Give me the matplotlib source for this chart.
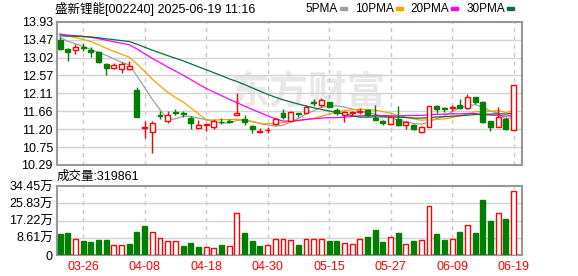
import numpy as np
import pandas as pd
import matplotlib
matplotlib.use('Agg')
import matplotlib.pyplot as plt
from matplotlib.patches import Rectangle

plt.rcParams['font.family'] = ['Liberation Sans', 'Noto Sans CJK SC']

title = '盛新锂能[002240] 2025-06-19 11:16'

dates = ['03-21', '03-24', '03-25', '03-26', '03-27', '03-28', '03-31', '04-01', '04-02', '04-03',
         '04-07', '04-08', '04-09', '04-10', '04-11', '04-14', '04-15', '04-16', '04-17', '04-18',
         '04-21', '04-22', '04-23', '04-24', '04-25', '04-28', '04-29', '04-30', '05-06', '05-07',
         '05-08', '05-09', '05-12', '05-13', '05-14', '05-15', '05-16', '05-19', '05-20', '05-21',
         '05-22', '05-23', '05-26', '05-27', '05-28', '05-29', '05-30', '06-03', '06-04', '06-05',
         '06-06', '06-09', '06-10', '06-11', '06-12', '06-13', '06-16', '06-17', '06-18', '06-19']

opens = [13.47, 13.24, 13.22, 13.29, 13.20, 13.15, 12.86, 12.76, 12.74, 12.74,
         12.20, 11.22, 11.12, 11.55, 11.42, 11.63, 11.61, 11.49, 11.24, 11.31,
         11.26, 11.39, 11.40, 11.57, 11.46, 11.28, 11.13, 11.17, 11.32, 11.60,
         11.41, 11.60, 11.62, 11.89, 11.82, 11.88, 11.69, 11.57, 11.61, 11.63,
         11.69, 11.49, 11.41, 11.33, 11.47, 11.30, 11.31, 11.14, 11.26, 11.79,
         11.73, 11.74, 11.82, 11.73, 12.01, 11.89, 11.41, 11.26, 11.46, 11.18]
highs = [13.55, 13.26, 13.36, 13.38, 13.28, 13.16, 12.89, 12.88, 12.91, 12.93,
         12.27, 11.41, 11.40, 11.66, 11.67, 11.70, 11.67, 11.54, 11.43, 11.34,
         11.45, 11.48, 11.45, 12.13, 11.56, 11.31, 11.24, 11.26, 11.48, 11.71,
         11.67, 11.62, 11.81, 11.97, 11.98, 11.90, 11.73, 11.65, 11.67, 11.75,
         11.71, 11.81, 11.44, 11.52, 11.78, 11.42, 11.32, 11.28, 11.80, 11.82,
         11.77, 11.81, 11.97, 12.09, 12.02, 11.92, 11.42, 11.77, 11.52, 12.32]
lows = [13.22, 12.94, 13.11, 13.19, 13.04, 12.88, 12.58, 12.73, 12.63, 12.70,
        11.52, 10.97, 10.60, 11.45, 11.36, 11.55, 11.52, 11.21, 11.20, 11.16,
        11.20, 11.33, 11.35, 11.56, 11.31, 11.11, 11.11, 11.11, 11.30, 11.45,
        11.40, 11.52, 11.60, 11.79, 11.77, 11.76, 11.56, 11.39, 11.54, 11.58,
        11.53, 11.43, 11.31, 11.31, 11.29, 11.21, 11.18, 11.11, 11.25, 11.60,
        11.63, 11.67, 11.70, 11.71, 11.85, 11.36, 11.15, 11.25, 11.18, 11.17]
closes = [13.24, 13.17, 13.30, 13.27, 13.15, 12.91, 12.75, 12.84, 12.85, 12.81,
          11.52, 11.26, 11.36, 11.53, 11.55, 11.61, 11.59, 11.35, 11.31, 11.33,
          11.42, 11.37, 11.38, 11.62, 11.38, 11.20, 11.15, 11.19, 11.46, 11.50,
          11.63, 11.58, 11.77, 11.87, 11.94, 11.77, 11.60, 11.63, 11.64, 11.66,
          11.55, 11.43, 11.35, 11.50, 11.30, 11.37, 11.21, 11.25, 11.79, 11.72,
          11.70, 11.76, 11.75, 12.01, 11.90, 11.37, 11.26, 11.50, 11.20, 12.32]
# 万股
volumes = [10.4, 10.9, 8.2, 6.9, 6.4, 7.4, 7.4, 4.8, 4.8, 5.4,
           11.4, 14.4, 11.4, 8.7, 6.8, 6.8, 4.3, 5.9, 4.0, 3.8,
           3.3, 5.0, 4.3, 21.1, 10.9, 6.9, 4.5, 4.8, 8.2, 8.2,
           7.3, 5.0, 7.8, 7.8, 7.8, 6.9, 6.9, 5.8, 5.3, 7.8,
           8.9, 12.4, 6.4, 9.2, 10.9, 5.4, 6.9, 7.3, 24.6, 10.4,
           7.4, 7.8, 11.4, 14.9, 10.9, 27.7, 16.8, 21.1, 17.8, 31.9861]

# closes before 03-21, estimated so the averages start where the picture shows them
prior_closes = [13.35, 13.42, 13.50, 13.46, 13.55, 13.52, 13.48, 13.58, 13.50, 13.54,
                13.56, 13.62, 13.58, 13.66, 13.60, 13.55, 13.63, 13.59, 13.57, 13.64,
                13.68, 13.74, 13.70, 13.75, 13.68, 13.66, 13.62, 13.58, 13.55]

ma_periods = [5, 10, 20, 30]
ma_names = ['5PMA', '10PMA', '20PMA', '30PMA']
ma_colors = ['#a0a0a0', '#f5a300', '#ff00ff', '#0a6e3a']

price_ticks = [10.29, 10.745, 11.20, 11.655, 12.11, 12.565, 13.02, 13.475, 13.93]
price_labels = ['10.29', '10.75', '11.20', '11.66', '12.11', '12.57', '13.02', '13.47', '13.93']
vol_ticks = [0, 8.61, 17.22, 25.83, 34.45]
vol_labels = ['0', '8.61万', '17.22万', '25.83万', '34.45万']
date_ticks = [3, 11, 19, 27, 35, 43, 51, 59]

RED = '#ff0000'
GREEN = '#008000'
W, H = 578, 276

fig = plt.figure(figsize=(W / 100, H / 100), dpi=100)
ax = fig.add_axes([57 / W, 1 - 165 / H, 465 / W, 143.3 / H])
axv = fig.add_axes([57 / W, 1 - 255 / H, 465 / W, 69 / H])

x = np.arange(len(dates))

# candles
for i in x:
    o, h, l, c = opens[i], highs[i], lows[i], closes[i]
    up = c >= o
    col = RED if up else GREEN
    ax.vlines(i, l, h, color=col, lw=1, zorder=3)
    ax.add_patch(Rectangle((i - 0.32, min(o, c)), 0.64, max(abs(c - o), 0.006),
                           facecolor='white' if up else col, edgecolor=col, lw=1, zorder=4))

# moving averages
allc = pd.Series(prior_closes + closes)
for p, col in zip(ma_periods, ma_colors):
    ma = allc.rolling(p).mean().iloc[len(prior_closes):].values
    ax.plot(x, ma, color=col, lw=0.9, zorder=2)

# volume, coloured by close vs previous close
prev = [prior_closes[-1]] + closes[:-1]
for i in x:
    up = closes[i] >= prev[i]
    col = RED if up else GREEN
    axv.add_patch(Rectangle((i - 0.32, 0), 0.64, volumes[i],
                            facecolor='white' if up else col, edgecolor=col, lw=1, zorder=3))

for a in (ax, axv):
    a.set_xlim(-0.4, 60.1)
    for t in date_ticks:
        a.axvline(t, color='#c8c8c8', lw=1, ls=(0, (3, 3)), zorder=1)
    for s in a.spines.values():
        s.set_color('#999999')
        s.set_linewidth(1.5)
    a.tick_params(length=0, labelsize=9, pad=3)
    a.set_xticks([])

ax.set_ylim(10.29, 13.93)
ax.set_yticks(price_ticks)
ax.set_yticklabels(price_labels)
for v in price_ticks[1:-1]:
    ax.axhline(v, color='#d3d3d3', lw=1, zorder=1)

axv.set_ylim(0, 34.45)
axv.set_yticks(vol_ticks)
axv.set_yticklabels(vol_labels)
for v in vol_ticks[1:-1]:
    axv.axhline(v, color='#d3d3d3', lw=1, zorder=1)
axv.set_xticks(date_ticks)
axv.set_xticklabels([dates[t] for t in date_ticks], color=RED)
axv.tick_params(axis='x', pad=4)

# watermark
ax.text(0.54, 0.50, '东方财富', transform=ax.transAxes, ha='center', va='center',
        fontsize=28, color='#e8e8e8', fontweight='bold', zorder=0)

fig.text(55 / W, 1 - 9 / H, title, fontsize=9, va='center', ha='left')
fig.text(57 / W, 1 - 177 / H, '成交量:%d' % round(volumes[-1] * 10000), fontsize=9, va='center', ha='left')

# legend, laid out from measured text widths and ending near the right edge
renderer = fig.canvas.get_renderer()
items = []
for name in ma_names:
    t = fig.text(0, 1 - 9 / H, name, fontsize=8.5, va='center', ha='left')
    items.append((t, t.get_window_extent(renderer).width))
total = sum(w + 17 for _, w in items) - 6
lx = 516 - total
for (t, w), col in zip(items, ma_colors):
    t.set_x(lx / W)
    lx += w
    fig.add_artist(Rectangle(((lx + 2) / W, 1 - 10 / H), 7 / W, 3 / H,
                             transform=fig.transFigure, color=col))
    lx += 17

fig.savefig('out.png', dpi=100)
